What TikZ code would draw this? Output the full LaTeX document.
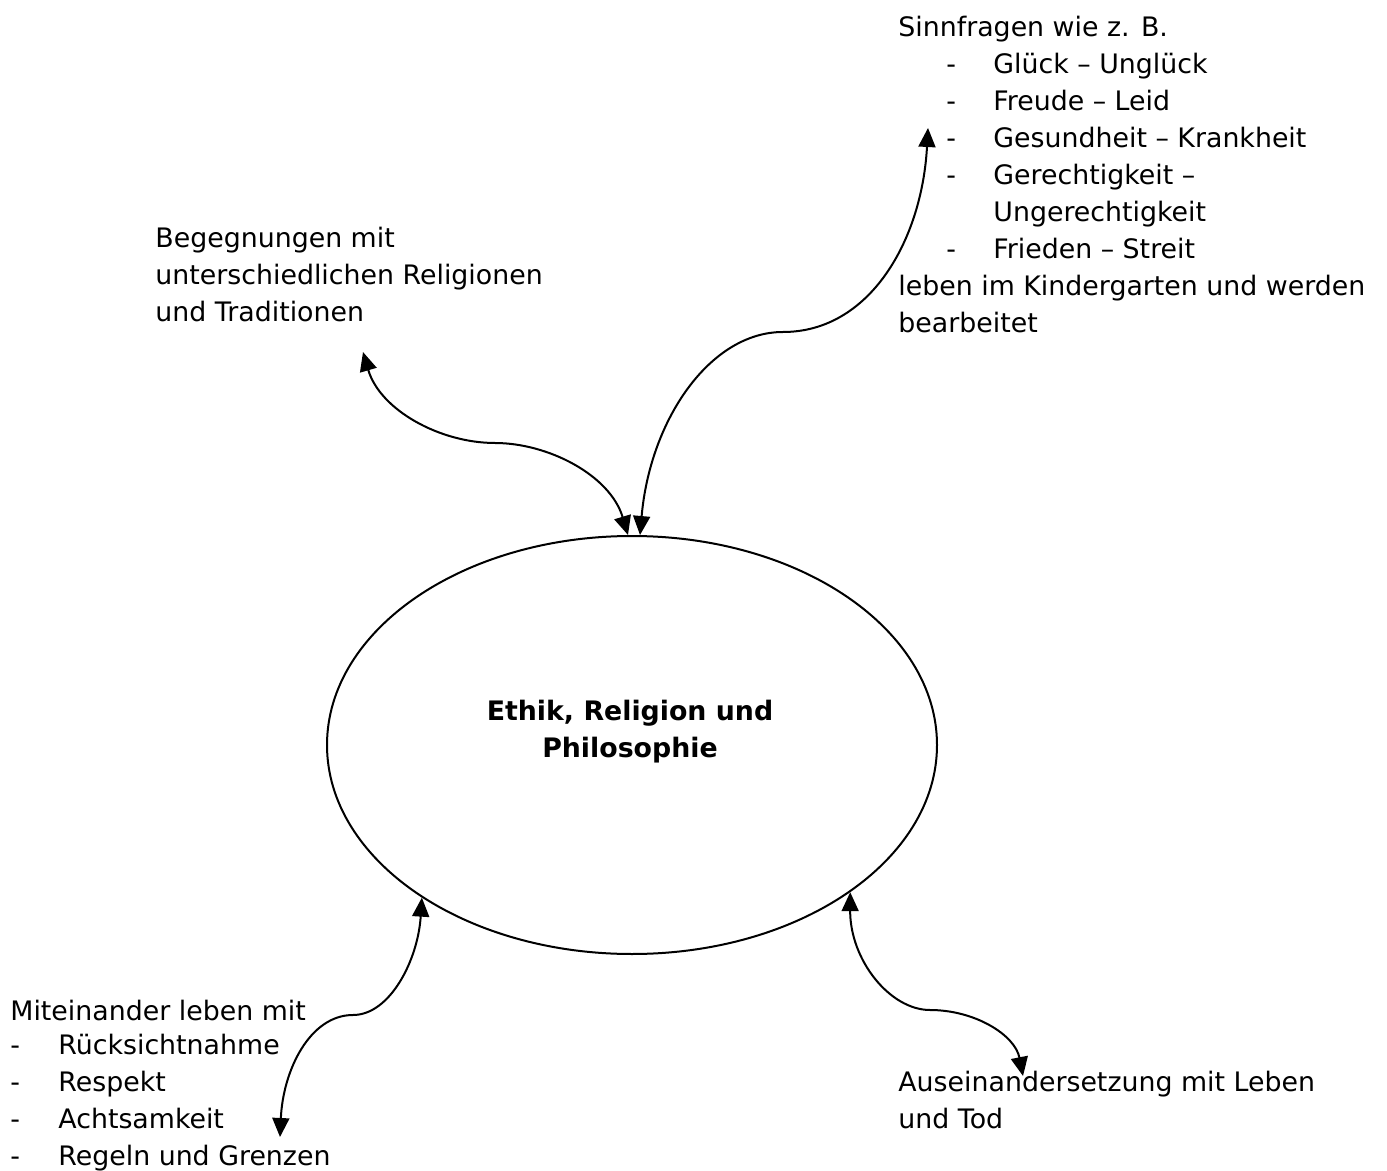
\documentclass[tikz,border=0pt]{standalone}
\usepackage{fontspec}
\setmainfont{DejaVu Sans}
\usetikzlibrary{shapes.geometric,arrows.meta}
\newcommand\sdash{\hspace*{24pt}\makebox[23.5pt][l]{-}}
\newcommand\sind{\hspace*{47.5pt}}
\newcommand\mdash{\makebox[24pt][l]{-}}
\begin{document}
\begin{tikzpicture}[x=0.5pt,y=-0.5pt,
  txt/.style={inner sep=0pt, anchor=base west, font=\fontsize{13.4pt}{18.5pt}\selectfont},
  conn/.style={line width=1pt, {Triangle[length=9.5pt,width=8.5pt]}-{Triangle[length=9.5pt,width=8.5pt]}},
  oval/.style={draw, ellipse, line width=1pt, inner sep=0pt, minimum width=305pt, minimum height=209pt}]
\useasboundingbox[fill=white] (0,0) rectangle (1387,1171);

% central ellipse
\node[oval] (core) at (632,745) {};
\node[txt, anchor=base, font=\fontsize{13.4pt}{18.5pt}\selectfont\bfseries] (title) at (630,720)
  {\begin{tabular}[t]{@{}c@{}}Ethik, Religion und\\Philosophie\end{tabular}};

% text blocks
\node[txt] (sinn) at (898,37) {\begin{tabular}[t]{@{}l@{}}Sinnfragen wie z. B.\\
\sdash Glück – Unglück\\
\sdash Freude – Leid\\
\sdash Gesundheit – Krankheit\\
\sdash Gerechtigkeit –\\
\sind Ungerechtigkeit\\
\sdash Frieden – Streit\\
leben im Kindergarten und werden\\
bearbeitet\end{tabular}};

\node[txt] (beg) at (155,248) {\begin{tabular}[t]{@{}l@{}}Begegnungen mit\\
unterschiedlichen Religionen\\
und Traditionen\end{tabular}};

\node[txt] (mit) at (10,1020) {\begin{tabular}[t]{@{}l@{}}Miteinander leben mit\\[-1.5pt]
\mdash Rücksichtnahme\\
\mdash Respekt\\
\mdash Achtsamkeit\\
\mdash Regeln und Grenzen\end{tabular}};

\node[txt] (aus) at (898,1091) {\begin{tabular}[t]{@{}l@{}}Auseinandersetzung mit Leben\\
und Tod\end{tabular}};

% connector end points near the texts
\coordinate (begtip) at (363,352);
\coordinate (sinntip) at (928,128);
\coordinate (mittip) at (280,1137);
\coordinate (austip) at (1023,1076);

% connectors
\draw[conn] (begtip) .. controls (380,410) and (440,443) .. (495,443)
  .. controls (548,443) and (610,475) .. ([xshift=-2pt]core.north);
\draw[conn] ([xshift=4pt]core.north) .. controls (650,420) and (710,332) .. (783,332)
  .. controls (870,332) and (922,240) .. (sinntip);
\draw[conn] (core.216) .. controls (418,960) and (390,1015) .. (353,1015)
  .. controls (310,1015) and (283,1070) .. (mittip);
\draw[conn] (core.326) .. controls (850,960) and (890,1010) .. (930,1010)
  .. controls (975,1010) and (1015,1035) .. (austip);
\end{tikzpicture}
\end{document}
